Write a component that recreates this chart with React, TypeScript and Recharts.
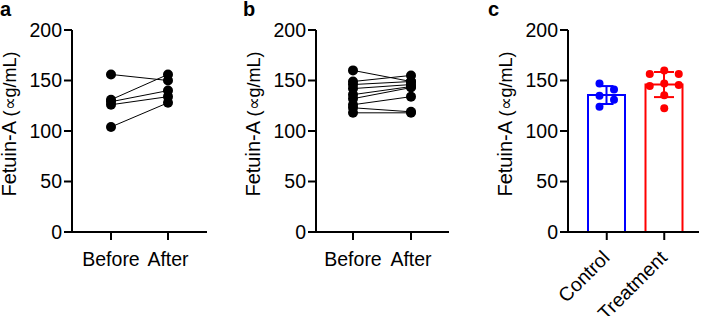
import { LineChart, Line, ComposedChart, Bar, Scatter, ErrorBar, XAxis, YAxis } from "recharts"

// paired measurements (panels a and b)
const pairGroups = ["Before", "After"]
const beforeA = [156, 131, 129, 126, 104]
const afterA = [150, 156, 140, 134, 128]
const beforeB = [160, 149, 146, 142, 136, 132, 126, 123, 118]
const afterB = [149, 155, 149, 146, 144, 143, 134, 119, 118]

// group comparison (panel c)
const groupsC = ["Control", "Treatment"]
const controlValues = [147, 141, 135, 131, 124]
const treatmentValues = [160, 156.5, 156.5, 147, 145.5, 144.5, 135.5, 122.5]

const yTicks = [0, 50, 100, 150, 200]

const FONT = "'Liberation Sans', Arial, sans-serif"
const TICK_FONT = 19.5
const axisStyle = { stroke: "#000", strokeWidth: 2 }

const mean = (v: number[]) => v.reduce((a, b) => a + b, 0) / v.length
const sd = (v: number[]) => {
  const m = mean(v)
  return Math.sqrt(v.reduce((a, b) => a + (b - m) ** 2, 0) / (v.length - 1))
}

// simple column layout so overlapping dots sit side by side
function swarmColumns(values: number[], gap: number) {
  const order = values.map((_, i) => i).sort((a, b) => values[b] - values[a])
  const placed: { v: number; c: number }[] = []
  const cols = values.map(() => 0)
  for (const i of order) {
    for (const c of [0, 1, -1, 2, -2]) {
      if (placed.every((p) => p.c !== c || Math.abs(p.v - values[i]) >= gap)) {
        cols[i] = c
        placed.push({ v: values[i], c })
        break
      }
    }
  }
  const shift = (Math.max(...cols) + Math.min(...cols)) / 2
  return cols.map((c) => c - shift)
}

const pairRows = (before: number[], after: number[]) =>
  pairGroups.map((name, g) => {
    const row: Record<string, any> = { name }
    const src = g === 0 ? before : after
    src.forEach((v, i) => (row[`s${i}`] = v))
    return row
  })

function YLabel({ viewBox }: any) {
  const x = viewBox.x + viewBox.width - 56
  const cy = viewBox.y + viewBox.height / 2 - 7
  return (
    <text x={x} y={cy} transform={`rotate(-90, ${x}, ${cy})`} textAnchor="middle" fontSize={20} fill="#000">
      Fetuin-A <tspan fontSize={18}>(∝g/mL)</tspan>
    </text>
  )
}

function SlantTick({ x, y, payload }: any) {
  const ax = x + 4
  const ay = y + 17
  return (
    <text x={ax} y={ay} transform={`rotate(-45, ${ax}, ${ay})`} textAnchor="end" fontSize={TICK_FONT} fill="#000">
      {payload.value}
    </text>
  )
}

function PanelLetter({ left, children }: { left: number; children: string }) {
  return (
    <div style={{ position: "absolute", left, top: 0, fontSize: 20, lineHeight: "18px", fontWeight: "bold" }}>
      {children}
    </div>
  )
}

function PairedPanel({ before, after, left, axisWidth, right, pad }: any) {
  const data = pairRows(before, after)
  return (
    <div style={{ position: "absolute", left, top: 0 }}>
      <LineChart width={230} height={316} data={data} margin={{ top: 30, right, bottom: 0, left: 0 }}>
        <XAxis
          dataKey="name"
          height={84}
          padding={pad}
          interval={0}
          axisLine={axisStyle}
          tickLine={axisStyle}
          tickSize={8}
          tickMargin={12}
          tick={{ fill: "#000", fontSize: TICK_FONT }}
        />
        <YAxis
          width={axisWidth}
          domain={[0, 200]}
          ticks={yTicks}
          axisLine={axisStyle}
          tickLine={axisStyle}
          tickSize={8}
          tickMargin={2}
          tick={{ fill: "#000", fontSize: TICK_FONT }}
          label={<YLabel />}
        />
        {before.map((_: number, i: number) => (
          <Line
            key={i}
            dataKey={`s${i}`}
            stroke="#000"
            strokeWidth={1}
            dot={{ r: 5, fill: "#000", stroke: "#000", strokeWidth: 0 }}
            activeDot={false}
            isAnimationActive={false}
          />
        ))}
      </LineChart>
    </div>
  )
}

function GroupPanel() {
  const barRows = [
    { group: groupsC[0], control: mean(controlValues), controlSd: sd(controlValues) },
    { group: groupsC[1], treatment: mean(treatmentValues), treatmentSd: sd(treatmentValues) },
  ]
  const controlCols = swarmColumns(controlValues, 8.4)
  const treatmentCols = swarmColumns(treatmentValues, 8.4)
  const controlDots = controlValues.map((value, i) => ({ group: groupsC[0], value, col: controlCols[i] }))
  const treatmentDots = treatmentValues.map((value, i) => ({ group: groupsC[1], value, col: treatmentCols[i] }))
  const dot = (color: string) => (p: any) => <circle cx={p.cx + p.payload.col * 14.5} cy={p.cy} r={4} fill={color} />

  return (
    <div style={{ position: "absolute", left: 460, top: 0 }}>
      <ComposedChart width={244} height={316} data={barRows} margin={{ top: 30, right: 5, bottom: 0, left: 0 }}>
        <XAxis
          dataKey="group"
          allowDuplicatedCategory={false}
          height={84}
          padding={{ left: 10, right: 6 }}
          interval={0}
          axisLine={axisStyle}
          tickLine={axisStyle}
          tickSize={8}
          tickMargin={2}
          tick={(p: any) => <SlantTick {...p} />}
        />
        <YAxis
          width={108}
          domain={[0, 200]}
          ticks={yTicks}
          axisLine={axisStyle}
          tickLine={axisStyle}
          tickSize={8}
          tickMargin={2}
          tick={{ fill: "#000", fontSize: TICK_FONT }}
          label={<YLabel />}
        />
        <Bar dataKey="control" stackId="s" barSize={37} fill="#fff" stroke="#0000ff" strokeWidth={2} isAnimationActive={false}>
          <ErrorBar dataKey="controlSd" width={7} stroke="#0000ff" strokeWidth={2} direction="y" />
        </Bar>
        <Bar dataKey="treatment" stackId="s" barSize={37} fill="#fff" stroke="#ff0000" strokeWidth={2} isAnimationActive={false}>
          <ErrorBar dataKey="treatmentSd" width={10} stroke="#ff0000" strokeWidth={2} direction="y" />
        </Bar>
        <Scatter data={controlDots} dataKey="value" shape={dot("#0000ff")} isAnimationActive={false} />
        <Scatter data={treatmentDots} dataKey="value" shape={dot("#ff0000")} isAnimationActive={false} />
      </ComposedChart>
    </div>
  )
}

export default function App() {
  return (
    <div
      style={{
        position: "absolute",
        left: 0,
        top: 0,
        width: 704,
        height: 316,
        background: "#fff",
        fontFamily: FONT,
        overflow: "hidden",
      }}
    >
      <PairedPanel before={beforeA} after={afterA} left={0} axisWidth={72} right={23} pad={{ left: 39, right: 39 }} />
      <PairedPanel before={beforeB} after={afterB} left={230} axisWidth={86} right={11} pad={{ left: 37, right: 38 }} />
      <GroupPanel />
      <PanelLetter left={0}>a</PanelLetter>
      <PanelLetter left={243}>b</PanelLetter>
      <PanelLetter left={488}>c</PanelLetter>
    </div>
  )
}
